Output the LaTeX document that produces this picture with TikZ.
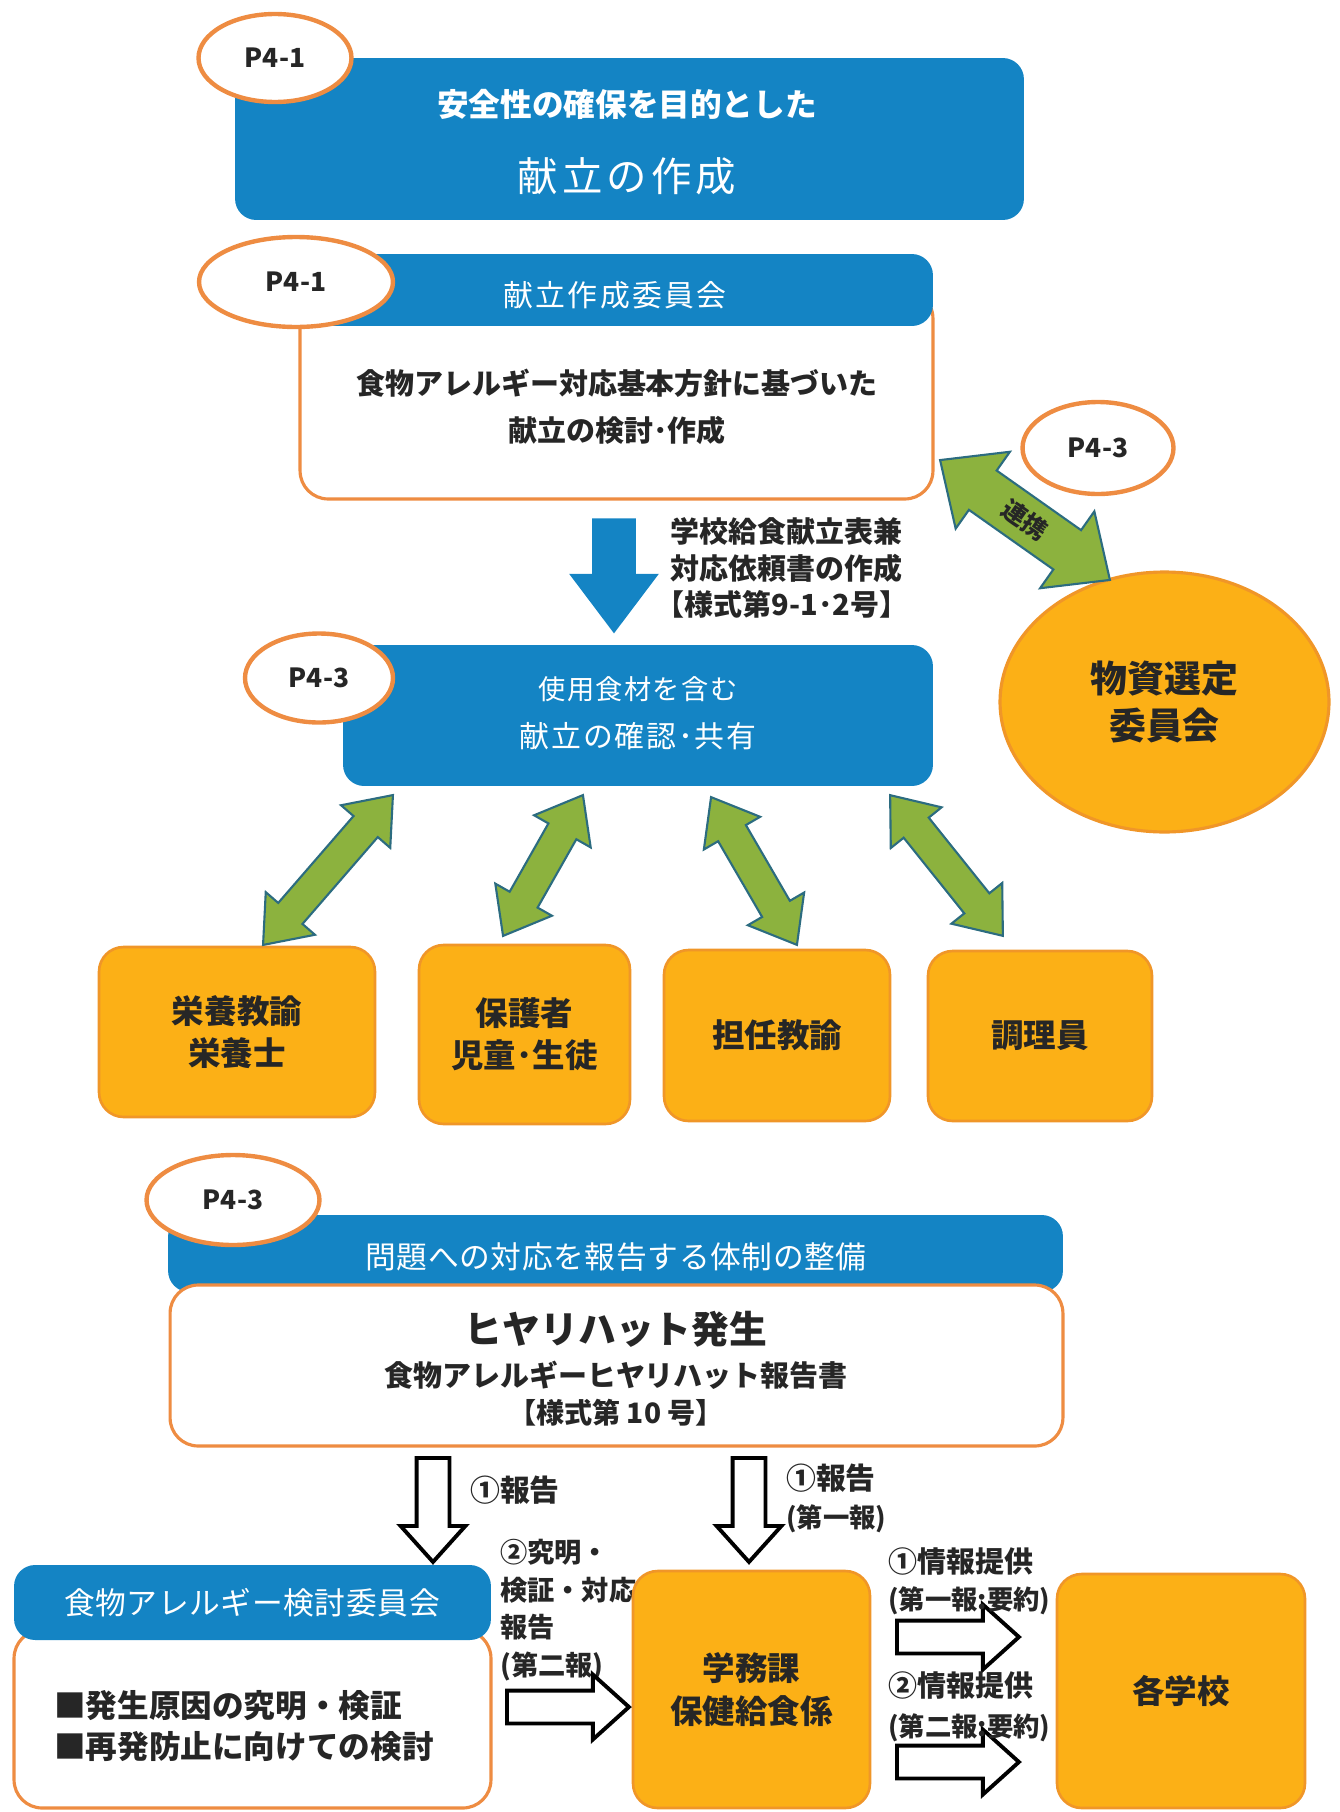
\documentclass[tikz,border=0pt]{standalone}
\usepackage{fontspec}
\setmainfont{Noto Sans CJK JP}
\usetikzlibrary{shapes.geometric,shapes.arrows,calc}

\definecolor{kblue}{RGB}{20,132,196}
\definecolor{korange}{RGB}{238,140,66}
\definecolor{kfill}{RGB}{252,176,22}
\definecolor{kedge}{RGB}{240,150,40}
\definecolor{kgreen}{RGB}{140,178,62}
\definecolor{kteal}{RGB}{44,108,128}
\definecolor{ktext}{RGB}{38,38,38}

\newcommand{\fs}[2]{\fontsize{#1}{#2}\selectfont}
% double arrows sit on the middle, single arrows on their tail
\newcommand{\fatarrow}[4][]{%
  \path let \p1=($(#3)-(#2)$), \n1={atan2(\y1,\x1)}, \n2={veclen(\x1,\y1)} in
    node[#1, rotate=\n1, minimum height=\n2] (#4) at ($(#2)!0.5!(#3)$) {};}
\newcommand{\tailarrow}[4][]{%
  \path let \p1=($(#3)-(#2)$), \n1={atan2(\y1,\x1)}, \n2={veclen(\x1,\y1)} in
    node[#1, rotate=\n1, minimum height=\n2, anchor=tail] (#4) at (#2) {};}

\tikzset{
  bluebox/.style={fill=kblue, rounded corners=12pt, inner sep=0pt},
  whitebox/.style={fill=white, draw=korange, line width=1.8pt, rounded corners=16pt, inner sep=0pt},
  orangebox/.style={fill=kfill, draw=kedge, line width=1.5pt, rounded corners=14pt, inner sep=0pt,
    text=ktext, font=\bfseries\fs{18.5}{24}, align=center},
  pageref/.style={ellipse, draw=korange, fill=white, line width=2.5pt, inner sep=0pt,
    text=ktext, font=\bfseries\fs{15}{18}},
  wtext/.style={text=white},
  dtext/.style={text=ktext},
  greenarrow/.style={double arrow, fill=kgreen, draw=kteal, line width=1.2pt, inner sep=0.3cm,
    double arrow head extend=0.33cm, double arrow tip angle=76, minimum width=0pt},
  linkarrow/.style={greenarrow, inner sep=0.46cm, double arrow head extend=0.46cm, double arrow tip angle=84},
  bluearrow/.style={single arrow, fill=kblue, inner sep=0.43cm,
    single arrow head extend=0.46cm, single arrow tip angle=74, minimum width=0pt},
  hollowarrow/.style={single arrow, fill=white, draw=black, line width=2.2pt, inner sep=0.29cm,
    single arrow head extend=0.32cm, single arrow tip angle=84, minimum width=0pt}
}

\begin{document}
\begin{tikzpicture}[x=0.02cm, y=-0.02cm]
   \useasboundingbox (0,0) rectangle (1339,1812);
   % purpose
   \node[bluebox, minimum width=15.78cm, minimum height=3.24cm] (mokuteki) at (629.5,139) {};
   \node[wtext, font=\bfseries\fs{18}{22}] (mokutekiA) at (627,104) {安全性の確保を目的とした};
   \node[wtext, font=\fs{23}{28}\addfontfeature{LetterSpace=10}] (mokutekiB) at (627,176) {献立の作成};
   \node[pageref, minimum width=3.06cm, minimum height=1.76cm] (refA) at (275,58) {P4-1};
   % menu committee
   \node[whitebox, minimum width=12.66cm, minimum height=4.18cm] (sakusei) at (616.5,394.5) {};
   \node[bluebox, minimum width=12.66cm, minimum height=1.44cm] (sakuseiH) at (616.5,290) {};
   \node[wtext, font=\fs{17}{20}\addfontfeature{LetterSpace=8}] (sakuseiT) at (615,295) {献立作成委員会};
   \node[dtext, font=\bfseries\fs{16.5}{26.7}, align=center] (sakuseiB) at (617,407)
        {食物アレルギー対応基本方針に基づいた\\献立の検討･作成};
   \node[pageref, minimum width=3.88cm, minimum height=1.8cm] (refB) at (296,282) {P4-1};
   \coordinate (blueA) at (614,518);
   \coordinate (blueB) at (614,633);
   \tailarrow[bluearrow]{blueA}{blueB}{irai}
   \node[dtext, font=\bfseries\fs{16.5}{20.8}, align=left, anchor=west] (youshiki) at (664,568)
        {学校給食献立表兼\\対応依頼書の作成\\\hspace*{-0.5em}【様式第9-1･2号】};
   % sharing
   \node[bluebox, minimum width=11.8cm, minimum height=2.82cm] (kakunin) at (638,715.5) {};
   \node[wtext, font=\fs{15.5}{18}\addfontfeature{LetterSpace=5}] (kakuninA) at (638,689) {使用食材を含む};
   \node[wtext, font=\fs{17}{20}\addfontfeature{LetterSpace=6}] (kakuninB) at (638,736) {献立の確認･共有};
   \node[pageref, minimum width=2.96cm, minimum height=1.78cm] (refD) at (319,678) {P4-3};
   % goods committee
   \node[ellipse, fill=kfill, draw=kedge, line width=1.8pt, minimum width=6.58cm, minimum height=5.2cm,
         text=ktext, font=\bfseries\fs{21}{27.3}, align=center] (busshi) at (1164.5,702) {物資選定\\委員会};
   \node[pageref, minimum width=3.02cm, minimum height=1.84cm] (refC) at (1098,448) {P4-3};
   \coordinate (renkeiA) at (940,460);
   \coordinate (renkeiB) at (1110,580);
   \fatarrow[linkarrow]{renkeiA}{renkeiB}{renkei}
   \node[dtext, font=\bfseries\fs{14}{16}, rotate=-35] (renkeiT) at (renkei) {連携};
   % staff
   \node[orangebox, minimum width=5.52cm, minimum height=3.4cm] (eiyo) at (237,1032) {栄養教諭\\栄養士};
   \node[orangebox, minimum width=4.22cm, minimum height=3.58cm] (hogo) at (524.5,1034.5) {保護者\\児童･生徒};
   \node[orangebox, minimum width=4.52cm, minimum height=3.42cm] (tannin) at (777,1035.5) {担任教諭};
   \node[orangebox, minimum width=4.48cm, minimum height=3.4cm] (chori) at (1040,1036) {調理員};
   \coordinate (g1a) at (393,795);  \coordinate (g1b) at (263,945);
   \coordinate (g2a) at (583,795);  \coordinate (g2b) at (503,936);
   \coordinate (g3a) at (711,797);  \coordinate (g3b) at (797,945);
   \coordinate (g4a) at (890,795);  \coordinate (g4b) at (1003,936);
   \fatarrow[greenarrow]{g1a}{g1b}{ga1}
   \fatarrow[greenarrow]{g2a}{g2b}{ga2}
   \fatarrow[greenarrow]{g3a}{g3b}{ga3}
   \fatarrow[greenarrow]{g4a}{g4b}{ga4}
   % near miss report
   \node[bluebox, minimum width=17.9cm, minimum height=1.54cm] (taisei) at (615.5,1253.5) {};
   \node[wtext, font=\fs{17.5}{20}\addfontfeature{LetterSpace=2}] (taiseiT) at (616,1257) {問題への対応を報告する体制の整備};
   \node[whitebox, minimum width=17.86cm, minimum height=3.22cm] (hiyari) at (616.5,1365.5) {};
   \node[dtext, font=\bfseries\fs{21.5}{24}] (hiyariA) at (616,1329) {ヒヤリハット発生};
   \node[dtext, font=\bfseries\fs{16.5}{20}] (hiyariB) at (616,1375) {食物アレルギーヒヤリハット報告書};
   \node[dtext, font=\bfseries\fs{16}{20}] (hiyariC) at (616,1413) {【様式第 10 号】};
   \node[pageref, minimum width=3.46cm, minimum height=1.8cm] (refE) at (233,1200) {P4-3};
   \coordinate (downA1) at (433,1456);  \coordinate (downA2) at (433,1560);
   \coordinate (downB1) at (749,1456);  \coordinate (downB2) at (749,1560);
   \tailarrow[hollowarrow]{downA1}{downA2}{houkokuA}
   \tailarrow[hollowarrow]{downB1}{downB2}{houkokuB}
   \node[dtext, font=\bfseries\fs{17}{20}, anchor=west] (houkokuAT) at (464,1490) {①報告};
   \node[dtext, font=\bfseries\fs{17}{21.6}, align=left, anchor=west] (houkokuBT) at (780,1498)
        {①報告\\\fs{15}{21.6}(第一報)};
   % allergy committee
   \node[whitebox, minimum width=9.54cm, minimum height=3.56cm] (kentou) at (252.5,1719) {};
   \node[bluebox, minimum width=9.54cm, minimum height=1.5cm] (kentouH) at (252.5,1602.5) {};
   \node[wtext, font=\fs{17.5}{20}\addfontfeature{LetterSpace=2}] (kentouT) at (252,1603) {食物アレルギー検討委員会};
   \node[dtext, font=\bfseries\fs{18}{23.3}, align=left, anchor=west] (kentouB) at (48,1726.5)
        {■発生原因の究明・検証\\■再発防止に向けての検討};
   \node[dtext, font=\bfseries\fs{15.5}{21.4}, align=left, anchor=west] (kyumei) at (494,1610)
        {②究明・\\検証・対応\\報告\\(第二報)};
   % school affairs
   \node[orangebox, minimum width=4.74cm, minimum height=4.74cm] (gakumu) at (751.5,1689.5) {学務課\\保健給食係};
   \node[orangebox, minimum width=4.96cm, minimum height=4.68cm] (kakugakko) at (1181,1691) {各学校};
   \coordinate (rightC1) at (505,1707);  \coordinate (rightC2) at (627,1707);
   \coordinate (rightD1) at (895,1637);  \coordinate (rightD2) at (1017,1637);
   \coordinate (rightE1) at (895,1762);  \coordinate (rightE2) at (1017,1762);
   \tailarrow[hollowarrow]{rightC1}{rightC2}{dainiho}
   \tailarrow[hollowarrow]{rightD1}{rightD2}{teikyoA}
   \tailarrow[hollowarrow]{rightE1}{rightE2}{teikyoB}
   \node[dtext, font=\bfseries\fs{16.5}{21}, align=left, anchor=west] (teikyoAT) at (882,1581.5)
        {①情報提供\\\fs{15}{21}(第一報:要約)};
   \node[dtext, font=\bfseries\fs{16.5}{22.8}, align=left, anchor=west] (teikyoBT) at (882,1707)
        {②情報提供\\\fs{15}{22.8}(第二報:要約)};
\end{tikzpicture}
\end{document}
